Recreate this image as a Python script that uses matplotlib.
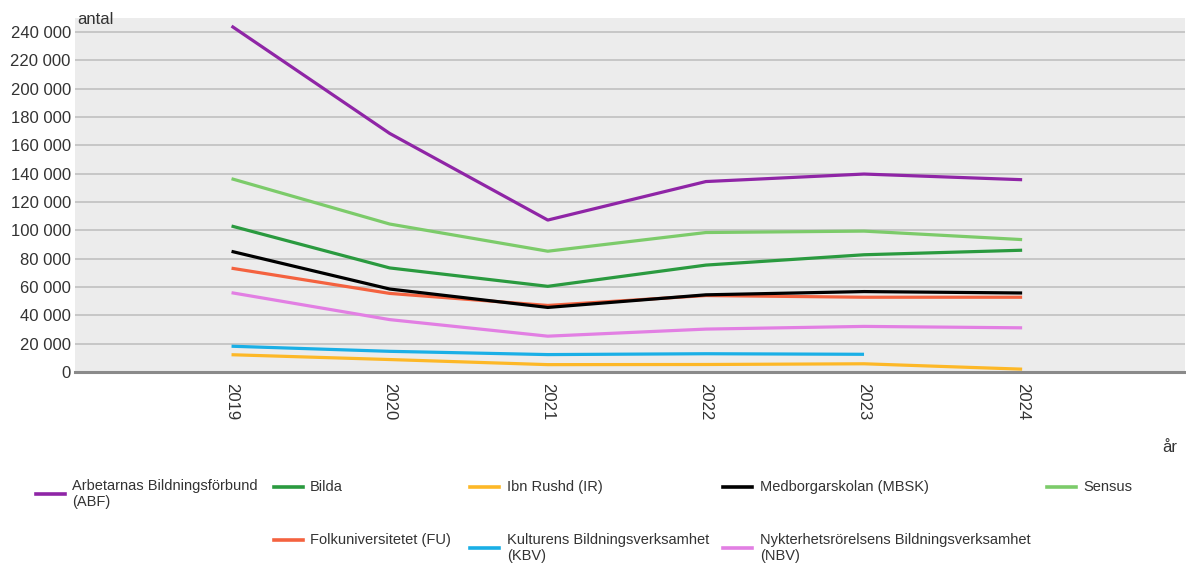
import matplotlib
matplotlib.use("Agg")
import matplotlib.pyplot as plt
from matplotlib.lines import Line2D
import numpy as np

years = [2019, 2020, 2021, 2022, 2023, 2024]

abf = [244300, 168500, 107300, 134500, 139800, 135800]
bilda = [103100, 73500, 60500, 75500, 82800, 86000]
folk = [73300, 55500, 47000, 54000, 52800, 52800]
ir = [12200, 8800, 5200, 5300, 5800, 2000]
kbv = [18200, 14600, 12300, 12900, 12500, None]
mbsk = [85200, 58600, 45600, 54500, 56800, 55800]
nbv = [56000, 37000, 25300, 30300, 32200, 31200]
sensus = [136500, 104500, 85300, 98500, 99500, 93500]

yticks = list(range(0, 240001, 20000))
ytick_labels = [f"{v:,}".replace(",", " ") for v in yticks]

series = [
    ("Arbetarnas Bildningsförbund\n(ABF)", abf, "#8f25a6"),
    ("Bilda", bilda, "#2a9a3f"),
    ("Ibn Rushd (IR)", ir, "#fdb827"),
    ("Sensus", sensus, "#7ccb6a"),
    ("Folkuniversitetet (FU)", folk, "#f4623f"),
    ("Medborgarskolan (MBSK)", mbsk, "#000000"),
    ("Kulturens Bildningsverksamhet\n(KBV)", kbv, "#1aafe6"),
    ("Nykterhetsrörelsens Bildningsverksamhet\n(NBV)", nbv, "#e27fe3"),
]

W, H = 1186, 568
fig = plt.figure(figsize=(W / 100, H / 100), dpi=100)
ax = fig.add_axes([75 / W, 1 - 372 / H, (1185 - 75) / W, (372 - 18) / H])
ax.set_facecolor("#ececec")

for label, vals, color in series:
    y = np.array([np.nan if v is None else v for v in vals], dtype=float)
    ax.plot(years, y, color=color, lw=2.3, solid_capstyle="butt", zorder=3)

ax.set_xlim(2018.01, 2025.03)
ax.set_ylim(0, 250000)
ax.set_yticks(yticks)
ax.set_yticklabels(ytick_labels)
ax.set_xticks(years)
ax.set_xticklabels([str(y) for y in years], rotation=-90)
ax.grid(axis="y", color="#c4c4c4", lw=1.3, zorder=1)
ax.grid(axis="x", visible=False)
for s in ["top", "right", "left"]:
    ax.spines[s].set_visible(False)
ax.spines["bottom"].set_color("#8a8a8a")
ax.spines["bottom"].set_linewidth(2.2)
ax.spines["bottom"].set_zorder(4)
ax.tick_params(axis="both", length=0, labelsize=12, colors="#333333",
               labelfontfamily="Liberation Sans")
ax.tick_params(axis="y", pad=3)
ax.tick_params(axis="x", pad=8)

fig.text(77 / W, 1 - 19 / H, "antal", fontsize=12, color="#333333",
         family="Liberation Sans", va="center", ha="left")
fig.text(1170 / W, 1 - 447 / H, "år", fontsize=12, color="#333333",
         family="Liberation Sans", va="center", ha="center")

# legend (manually placed entries)
legend_items = [
    (0, 36, 72, 494),
    (1, 274, 310, 487),
    (2, 470, 507, 487),
    (5, 723, 760, 487),
    (3, 1047, 1083, 487),
    (4, 274, 310, 540),
    (6, 470, 507, 548),
    (7, 723, 760, 548),
]
for idx, hx, tx, yy in legend_items:
    label, vals, color = series[idx]
    fy = 1 - yy / H
    fig.add_artist(Line2D([hx / W, (hx + 29) / W], [fy, fy], color=color,
                          lw=2.6, transform=fig.transFigure))
    fig.text(tx / W, fy, label, fontsize=10.5, color="#333333",
             family="Liberation Sans", va="center", ha="left", linespacing=1.1)

fig.savefig("out.png", dpi=100)
